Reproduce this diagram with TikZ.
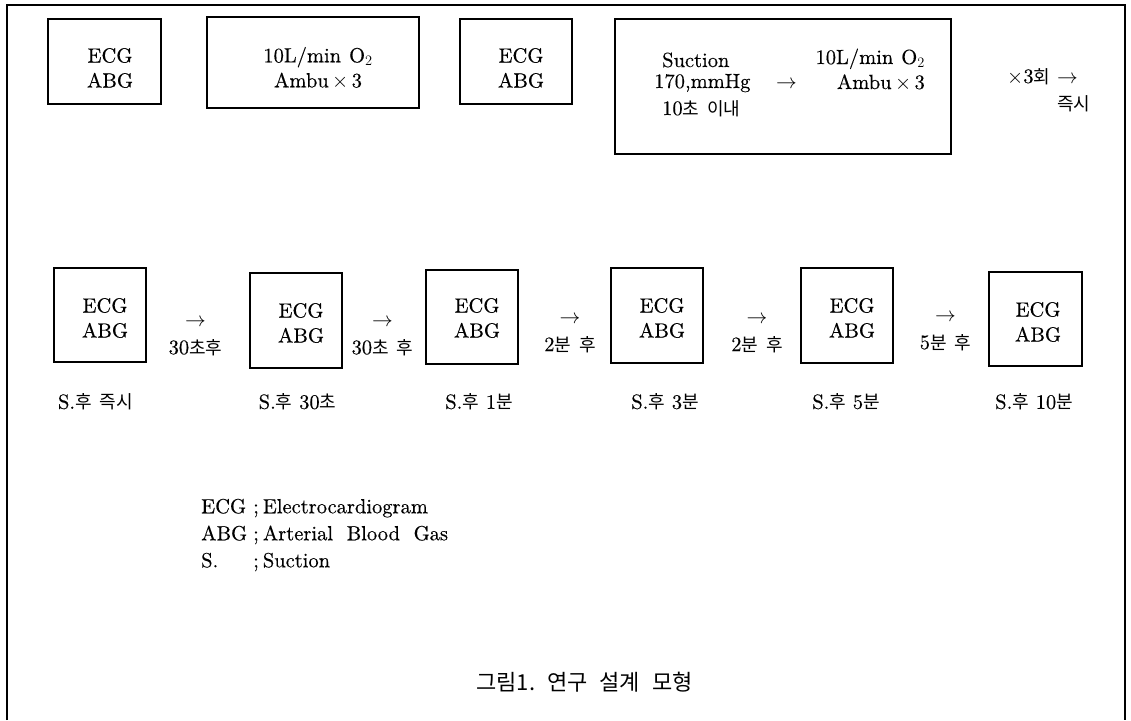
\documentclass[tikz,border=0pt]{standalone}
\usepackage{fontspec}
\setmainfont{lmroman10-regular.otf}[FakeBold=0.35]
\newfontfamily\kr[Scale=0.88,WordSpace=2]{Noto Sans CJK KR}
\usetikzlibrary{fit}
\begin{document}
\begin{tikzpicture}[x=1pt,y=-1pt,
  every node/.style={font=\fontsize{20.5}{25}\selectfont, inner sep=0pt},
  frame/.style={line width=1.2pt},
  box/.style={draw, line width=1.3pt, inner sep=0pt},
  boxtxt/.style={align=center},
  gaptxt/.style={align=center, font=\fontsize{20.5}{28}\selectfont},
  legend/.style={align=left, font=\fontsize{20.5}{27}\selectfont},
  captxt/.style={font=\fontsize{25}{30}\selectfont\kr},
]
\useasboundingbox (0,0) rectangle (1131,720);
\draw[frame] (7,720) -- (7,5) -- (1125,5) -- (1125,720);

% top row
\node[box, fit={(48,19) (161,104)}] (t1) {};
\node[boxtxt] (t1t) at (110,68) {ECG\\ABG};
\node[box, fit={(207,17) (419,108)}] (t2) {};
\node[boxtxt] (t2t) at (318,68) {10L/min\hspace{8pt}O$_2$\\Ambu\,$\times$\,3};
\node[box, fit={(460,19) (572,104)}] (t3) {};
\node[boxtxt] (t3t) at (521,68) {ECG\\ABG};
\node[box, fit={(615,19) (951,154)}] (t4) {};
\node[anchor=base west] (s1) at (662,67) {Suction};
\node[anchor=base west] (s2) at (654,88) {170,mmHg};
\node[anchor=base west] (s3) at (662,115) {10{\kr 초 이내}};
\node[anchor=base west] (s4) at (776,88) {$\rightarrow$};
\node[anchor=base east] (s5) at (925,64) {10L/min\hspace{8pt}O$_2$};
\node[anchor=base east] (s6) at (925,89) {Ambu\,$\times$\,3};
\node[anchor=base west] (r1) at (1007,83) {$\times$3{\kr 회} $\rightarrow$};
\node[anchor=base west] (r2) at (1057,110) {\kr 즉시};

% bottom row
\node[box, fit={(54,268) (146,362)}] (b1) {};
\node[boxtxt] (b1t) at (105,318) {ECG\\ABG};
\node[box, fit={(250,273) (342,368)}] (b2) {};
\node[boxtxt] (b2t) at (301,323) {ECG\\ABG};
\node[box, fit={(426,270) (518,364)}] (b3) {};
\node[boxtxt] (b3t) at (477,318) {ECG\\ABG};
\node[box, fit={(611,268) (703,363)}] (b4) {};
\node[boxtxt] (b4t) at (662,318) {ECG\\ABG};
\node[box, fit={(801,268) (893,363)}] (b5) {};
\node[boxtxt] (b5t) at (852,318) {ECG\\ABG};
\node[box, fit={(989,272) (1082,366)}] (b6) {};
\node[boxtxt] (b6t) at (1038,322) {ECG\\ABG};

\node[gaptxt] (g1) at (195.5,337) {$\rightarrow$\\30{\kr 초후}};
\node[gaptxt] (g2) at (382.5,337) {$\rightarrow$\\30{\kr 초 후}};
\node[gaptxt] (g3) at (570,334) {$\rightarrow$\\2{\kr 분 후}};
\node[gaptxt] (g4) at (757,334) {$\rightarrow$\\2{\kr 분 후}};
\node[gaptxt] (g5) at (945.5,332) {$\rightarrow$\\5{\kr 분 후}};

\node (l1) at (95.5,402) {S.{\kr 후 즉시}};
\node (l2) at (297.5,402) {S.{\kr 후} 30{\kr 초}};
\node (l3) at (479,402) {S.{\kr 후} 1{\kr 분}};
\node (l4) at (665,402) {S.{\kr 후} 3{\kr 분}};
\node (l5) at (846,402) {S.{\kr 후} 5{\kr 분}};
\node (l6) at (1034,402) {S.{\kr 후} 10{\kr 분}};

% legend
\node[legend, anchor=west] (leg) at (201,535) {\makebox[52pt][l]{ECG};\hspace{4pt}Electrocardiogram\\
\makebox[52pt][l]{ABG};\hspace{4pt}Arterial\ \ Blood\ \ Gas\\
\makebox[52pt][l]{S.};\hspace{4pt}Suction};

% caption
\node[captxt] (cap) at (584.5,682) {그림1.\hspace{12pt}연구\hspace{12pt}설계\hspace{12pt}모형};
\end{tikzpicture}
\end{document}
